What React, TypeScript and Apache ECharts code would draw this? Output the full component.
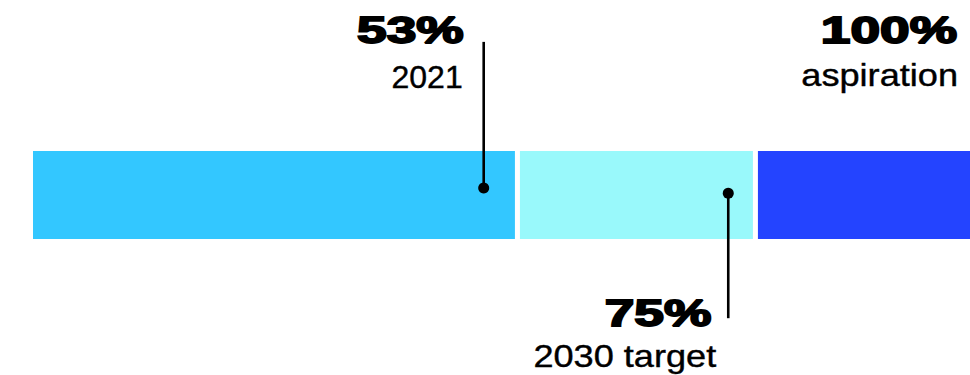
import React, { useEffect, useRef } from "react";
import * as echarts from "echarts";

// Stacked progress bar: extents of each coloured segment (axis units, 0..100)
const segmentNames = ["2021", "2030 target", "aspiration"];
const segmentEnds = [51.7, 77.1, 100];
const segmentColors = ["#33C7FF", "#99F9FB", "#2444FF"];

// Annotations
const annotValues = ["53%", "75%", "100%"];
const annotCaptions = ["2021", "2030 target", "aspiration"];
const annotX = [48.1, 74.2, 100];
const annotDotY = [0.58, 0.52, null];
const annotLineEndY = [2.24, -0.9, null];
const annotLabelTopY = [2.566, -0.64, 2.566];

// layout (pixels)
const valuePad = [20, 17, 13];
const captionPad = [21, 12, 12];
const captionGap = [48, 44, 46];
const captionScale = [1.0, 1.13, 1.13];

export default function App() {
  const ref = useRef<HTMLDivElement>(null);

  useEffect(() => {
    if (!ref.current) return;
    const chart = echarts.init(ref.current, undefined, { renderer: "svg" });

    const segData = segmentEnds.map((end, i) => [i === 0 ? 0 : segmentEnds[i - 1], end]);
    const annData = annotX.map((x, i) => [x, annotLabelTopY[i]]);

    chart.setOption({
      animation: false,
      grid: { left: 33, right: 0, top: 151, height: 88 },
      xAxis: { type: "value", min: 0, max: 100, show: false },
      yAxis: { type: "value", min: 0, max: 1, show: false },
      series: [
        {
          type: "custom",
          name: "segments",
          data: segData,
          clip: false,
          renderItem: (params: any, api: any) => {
            const i = params.dataIndex;
            const start = api.value(0);
            const end = api.value(1);
            const p0 = api.coord([start, 1]);
            const p1 = api.coord([end, 0]);
            const gap = 2.5;
            const x0 = p0[0] + (start > 0 ? gap : 0);
            const x1 = p1[0] - (end < 100 ? gap : 0);
            return {
              type: "rect",
              name: segmentNames[i],
              shape: { x: x0, y: p0[1], width: x1 - x0, height: p1[1] - p0[1] },
              style: { fill: segmentColors[i] },
            };
          },
        },
        {
          type: "custom",
          name: "annotations",
          data: annData,
          clip: false,
          z: 5,
          renderItem: (params: any, api: any) => {
            const i = params.dataIndex;
            const x = api.value(0);
            const top = api.coord([x, api.value(1)]);
            const children: any[] = [];
            const hasLine = annotDotY[i] != null;
            if (hasLine) {
              const d = api.coord([x, annotDotY[i] as number]);
              const e = api.coord([x, annotLineEndY[i] as number]);
              children.push({
                type: "line",
                shape: { x1: d[0], y1: d[1], x2: e[0], y2: e[1] },
                style: { stroke: "#000", lineWidth: 2.6 },
              });
              children.push({
                type: "circle",
                shape: { cx: d[0], cy: d[1], r: 5.5 },
                style: { fill: "#000" },
              });
            }
            children.push({
              type: "text",
              x: top[0] - valuePad[i],
              y: top[1],
              scaleX: 1.48,
              style: {
                text: annotValues[i],
                fill: "#000",
                stroke: "#000",
                lineWidth: 1.8,
                fontSize: 36,
                fontWeight: "bold",
                fontFamily: "Liberation Sans, Arial, sans-serif",
                align: "right",
                verticalAlign: "top",
              },
            });
            children.push({
              type: "text",
              x: top[0] - captionPad[i],
              y: top[1] + captionGap[i],
              scaleX: captionScale[i],
              style: {
                text: annotCaptions[i],
                fill: "#000",
                stroke: "#000",
                lineWidth: 0.4,
                fontSize: 32,
                fontFamily: "Liberation Sans, Arial, sans-serif",
                align: "right",
                verticalAlign: "top",
              },
            });
            return { type: "group", children };
          },
        },
      ],
    });

    return () => chart.dispose();
  }, []);

  return (
    <div
      ref={ref}
      style={{ position: "absolute", left: 0, top: 0, width: 970, height: 375, background: "#fff" }}
    />
  );
}
